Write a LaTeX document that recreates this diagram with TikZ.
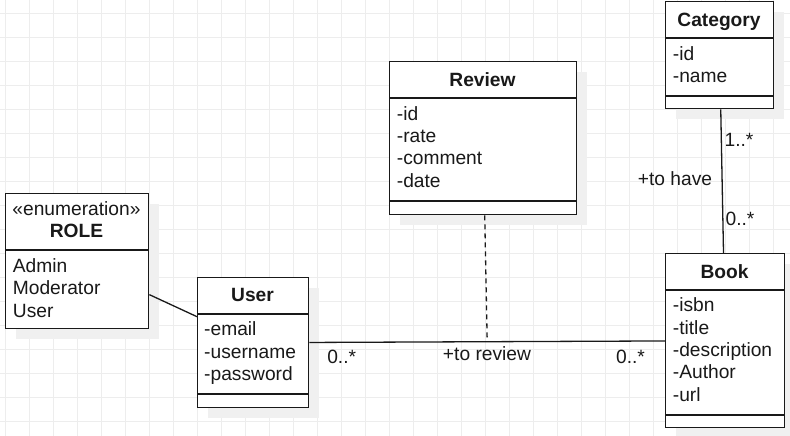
\documentclass[tikz,border=0pt]{standalone}
\usepackage{fontspec}
\setmainfont{Liberation Sans}
\usetikzlibrary{positioning, shadows, calc}

\newcommand{\umlfont}{\fontsize{19.2}{22.4}\selectfont}

\tikzset{
  gridline/.style={draw=black!7, line width=0.8pt},
  classbox/.style={draw=black!90, line width=1.4pt, fill=white, anchor=north west, inner sep=0pt,
    drop shadow={shadow xshift=10pt, shadow yshift=-10pt, fill=black!6, opacity=1}},
  sep/.style={draw=black!90, line width=1.3pt},
  classname/.style={anchor=base, text=black!90, font=\umlfont\bfseries},
  stereo/.style={anchor=base, text=black!90, font=\umlfont},
  member/.style={anchor=base west, inner sep=0pt, text=black!90, font=\umlfont},
  mult/.style={anchor=base, inner sep=0pt, text=black!90, font=\umlfont},
  link/.style={draw=black!90, line width=1.3pt},
  assocdash/.style={link, dash pattern=on 5pt off 4pt},
}

\begin{document}
\begin{tikzpicture}[x=1pt, y=-1pt]
  \useasboundingbox (0,0) rectangle (790,436);

  % background grid
  \foreach \gx in {5,29,...,773}
    \draw[gridline] (\gx,0) -- (\gx,436);
  \foreach \gy in {13.5,37.5,...,421.5}
    \draw[gridline] (0,\gy) -- (790,\gy);

  % ROLE
  \node[classbox, minimum width=143pt, minimum height=135pt] (role) at (5,193) {};
  \draw[sep] (role.west |- 0,250) -- (role.east |- 0,250);
  \node[stereo] (role-stereo) at (76.5,215) {«enumeration»};
  \node[classname] (role-name) at (76.5,237.3) {ROLE};
  \foreach \t [count=\i] in {Admin,Moderator,User}
    \node[member] (role-\i) at (12.7,{272.3+22.4*(\i-1)}) {\t};

  % User
  \node[classbox, minimum width=111pt, minimum height=130pt] (user) at (197,277) {};
  \draw[sep] (user.west |- 0,314) -- (user.east |- 0,314);
  \draw[sep] (user.west |- 0,394) -- (user.east |- 0,394);
  \node[classname] (user-name) at (252.5,301.7) {User};
  \foreach \t [count=\i] in {-email,-username,-password}
    \node[member] (user-\i) at (204,{335.7+22.4*(\i-1)}) {\t};

  % Review
  \node[classbox, minimum width=187pt, minimum height=153pt] (review) at (389,61) {};
  \draw[sep] (review.west |- 0,98) -- (review.east |- 0,98);
  \draw[sep] (review.west |- 0,201) -- (review.east |- 0,201);
  \node[classname] (review-name) at (482.5,86) {Review};
  \foreach \t [count=\i] in {-id,-rate,-comment,-date}
    \node[member] (review-\i) at (396.7,{120+22.4*(\i-1)}) {\t};

  % Category
  \node[classbox, minimum width=108pt, minimum height=107pt] (category) at (665,1) {};
  \draw[sep] (category.west |- 0,38) -- (category.east |- 0,38);
  \draw[sep] (category.west |- 0,96) -- (category.east |- 0,96);
  \node[classname] (category-name) at (719,26.7) {Category};
  \foreach \t [count=\i] in {-id,-name}
    \node[member] (category-\i) at (672.7,{60+22.4*(\i-1)}) {\t};

  % Book
  \node[classbox, minimum width=119pt, minimum height=174pt] (book) at (665,253) {};
  \draw[sep] (book.west |- 0,290) -- (book.east |- 0,290);
  \draw[sep] (book.west |- 0,415) -- (book.east |- 0,415);
  \node[classname] (book-name) at (724.5,278.3) {Book};
  \foreach \t [count=\i] in {-isbn,-title,-description,-Author,-url}
    \node[member] (book-\i) at (672.7,{311.7+22.4*(\i-1)}) {\t};

  % associations
  \coordinate (assoc) at ($(user.east)!0.5!(book.west)$);
  \path[link]
    (role) edge (user)
    (user) edge (book)
    (category) edge (book)
  ;
  \draw[assocdash] (review) -- (assoc);

  \node[mult] (ub-from) at (341.7,363) {0..*};
  \node[mult] (ub-name) at (487,360) {+to review};
  \node[mult] (ub-to) at (630.5,363) {0..*};
  \node[mult] (cb-from) at (739,146.7) {1..*};
  \node[mult] (cb-name) at (675,185) {+to have};
  \node[mult] (cb-to) at (740,225) {0..*};
\end{tikzpicture}
\end{document}
